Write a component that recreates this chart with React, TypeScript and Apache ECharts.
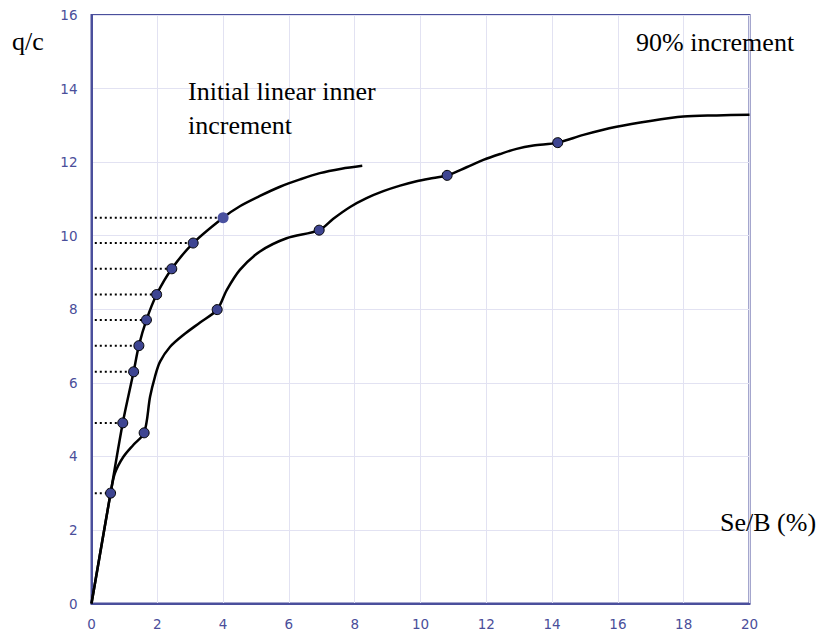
import React, { useEffect, useRef } from "react";
import * as echarts from "echarts";

// Curve 1: initial linear inner increment (x = Se/B %, y = q/c)
const innerCurveX = [0, 0.58, 0.95, 1.28, 1.44, 1.67, 1.98, 2.44, 3.09, 4.0, 4.51, 5.12, 5.73, 6.34, 6.94, 7.6, 8.23];
const innerCurveY = [0, 3.0, 4.91, 6.3, 7.01, 7.71, 8.4, 9.1, 9.8, 10.49, 10.8, 11.08, 11.33, 11.53, 11.7, 11.82, 11.9];

// Curve 2: 90% increment
const outerCurveX = [0, 0.58, 0.71, 0.97, 1.27, 1.6, 1.78, 1.93, 2.08, 2.39, 2.79, 3.3, 3.82, 4.11, 4.51, 5.12, 5.93, 6.92, 7.35, 7.86, 8.36, 8.87, 9.38, 9.88, 10.39, 10.81, 11.4, 11.91, 12.42, 12.92, 13.43, 14.17, 14.95, 15.96, 16.98, 17.99, 19.0, 20];
const outerCurveY = [0, 3.0, 3.54, 3.99, 4.31, 4.64, 5.62, 6.17, 6.57, 6.98, 7.3, 7.64, 7.99, 8.52, 9.07, 9.57, 9.93, 10.15, 10.46, 10.78, 11.02, 11.21, 11.36, 11.48, 11.57, 11.64, 11.86, 12.06, 12.22, 12.36, 12.45, 12.53, 12.74, 12.96, 13.12, 13.24, 13.27, 13.29];

// Marked points
const innerMarkX = [0.58, 0.95, 1.28, 1.44, 1.67, 1.98, 2.44, 3.09];
const innerMarkY = [3.0, 4.91, 6.3, 7.01, 7.71, 8.4, 9.1, 9.8];
const lastInnerMark = [4.0, 10.49];
const outerMarkX = [1.6, 3.82, 6.92, 10.81, 14.17];
const outerMarkY = [4.64, 7.99, 10.15, 11.64, 12.53];

// Dotted level guides start just right of the q/c axis
const dotStartX = 0.1;
const dotLevelX = [0.58, 0.95, 1.28, 1.44, 1.67, 1.98, 2.44, 3.09, 4.0];
const dotLevelY = [3.0, 4.91, 6.3, 7.01, 7.71, 8.4, 9.1, 9.8, 10.49];

const xTicks = [0, 2, 4, 6, 8, 10, 12, 14, 16, 18, 20];
const yTicks = [0, 2, 4, 6, 8, 10, 12, 14, 16];

const AXIS = "#4a4f9c";
const LABEL = "#4a4e9a";
const GRIDC = "#e2e2f2";
const MARK = "#3e4592";
const SERIF = "'Liberation Serif', 'Times New Roman', serif";

export default function App() {
  const ref = useRef<HTMLDivElement>(null);
  useEffect(() => {
    if (!ref.current) return;
    const chart = echarts.init(ref.current, null, { renderer: "svg" });
    const zip = (xs: number[], ys: number[]) => xs.map((x, i) => [x, ys[i]]);
    const dotSeries = dotLevelY.map((y, i) => ({
      type: "line",
      data: [
        [dotStartX, y],
        [dotLevelX[i], y],
      ],
      symbol: "none",
      silent: true,
      z: 1,
      lineStyle: { color: "#000", width: 2, type: [2, 3] },
    }));
    chart.setOption({
      animation: false,
      backgroundColor: "#fff",
      grid: {
        left: 91.5,
        right: 68.5,
        top: 15,
        bottom: 28.5,
        show: true,
        borderColor: AXIS,
        borderWidth: 2,
        backgroundColor: "transparent",
      },
      xAxis: {
        type: "value",
        min: xTicks[0],
        max: xTicks[xTicks.length - 1],
        interval: 2,
        axisLine: { show: true, lineStyle: { color: AXIS, width: 2 } },
        axisTick: { show: false },
        axisLabel: { color: LABEL, fontFamily: "DejaVu Sans", fontSize: 13.5, margin: 13 },
        splitLine: { show: true, lineStyle: { color: GRIDC, width: 1 } },
      },
      yAxis: {
        type: "value",
        min: yTicks[0],
        max: yTicks[yTicks.length - 1],
        interval: 2,
        axisLine: { show: true, lineStyle: { color: AXIS, width: 2 } },
        axisTick: { show: false },
        axisLabel: { color: LABEL, fontFamily: "DejaVu Sans", fontSize: 13.5, margin: 14 },
        splitLine: { show: true, lineStyle: { color: GRIDC, width: 1 } },
      },
      series: [
        ...dotSeries,
        {
          type: "line",
          data: zip(innerCurveX, innerCurveY),
          symbol: "none",
          smooth: 0.3,
          z: 2,
          lineStyle: { color: "#000", width: 2.5 },
        },
        {
          type: "line",
          data: zip(outerCurveX, outerCurveY),
          symbol: "none",
          smooth: 0.3,
          z: 2,
          lineStyle: { color: "#000", width: 2.5 },
        },
        {
          type: "scatter",
          data: [...zip(innerMarkX, innerMarkY), ...zip(outerMarkX, outerMarkY)],
          symbol: "circle",
          symbolSize: 10,
          z: 3,
          itemStyle: { color: MARK, borderColor: "#000", borderWidth: 1, opacity: 1 },
        },
        {
          type: "scatter",
          data: [lastInnerMark],
          symbol: "circle",
          symbolSize: 11,
          z: 3,
          itemStyle: { color: "#4a51a0", opacity: 1 },
        },
      ],
      graphic: [
        { type: "text", left: 12, top: 28, z: 10, style: { text: "q/c", font: `26px ${SERIF}`, fill: "#000" } },
        { type: "text", left: 636, top: 29, z: 10, style: { text: "90% increment", font: `26px ${SERIF}`, fill: "#000" } },
        {
          type: "text",
          left: 188,
          top: 74,
          z: 10,
          style: { text: "Initial linear inner\nincrement", font: `26px ${SERIF}`, lineHeight: 34, fill: "#000" },
        },
        { type: "text", left: 720, top: 509, z: 10, style: { text: "Se/B (%)", font: `26px ${SERIF}`, fill: "#000" } },
      ],
    });
    return () => chart.dispose();
  }, []);
  return <div ref={ref} style={{ width: 818, height: 632, position: "absolute", left: 0, top: 0 }} />;
}
